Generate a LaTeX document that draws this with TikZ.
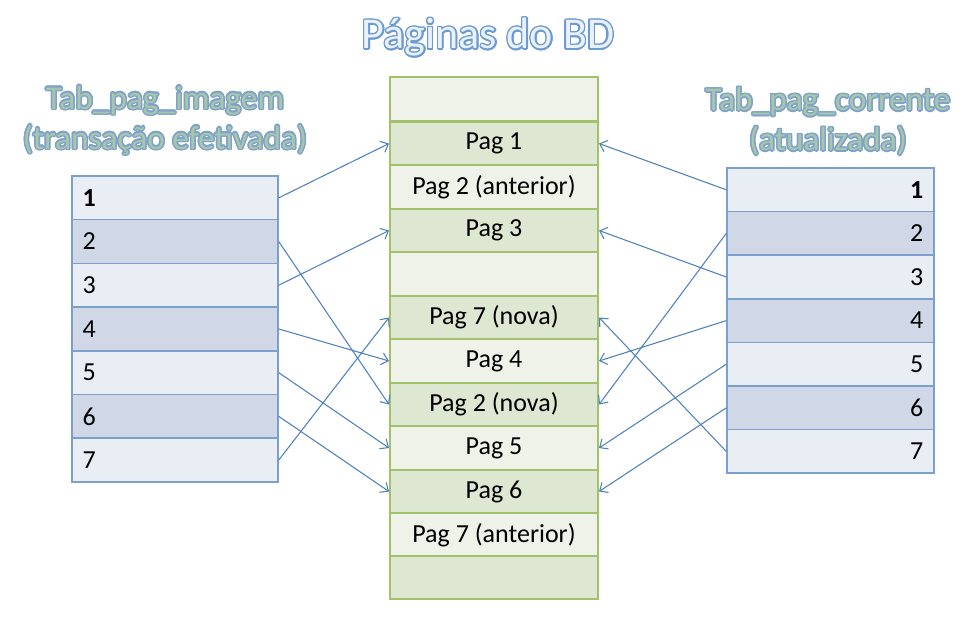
\documentclass[tikz,border=0pt]{standalone}
\usepackage{fontspec}
\setmainfont{Carlito}
\usepackage[copies]{contour}
\usetikzlibrary{arrows.meta}

\definecolor{bdlight}{HTML}{EFF2E9}
\definecolor{bddark}{HTML}{DEE7D1}
\definecolor{bdborder}{HTML}{A3C16B}
\definecolor{tablight}{HTML}{E9EDF4}
\definecolor{tabdark}{HTML}{D0D8E8}
\definecolor{tabborder}{HTML}{7BA0CD}
\definecolor{seta}{HTML}{4F81BD}
\definecolor{titfill}{HTML}{EAF1FA}
\definecolor{titline}{HTML}{6C9BD2}
\definecolor{subfill}{HTML}{A9C6A9}
\definecolor{subline}{HTML}{7DA3CC}

\begin{document}
\begin{tikzpicture}[x=0.75pt,y=-0.75pt]

                \tikzset{bdrow/.style = {shape=rectangle,draw=bdborder,line width=1.5pt,minimum width=156pt,minimum height=32.6pt,font=\fontsize{19.5}{22}\selectfont}}
                \tikzset{imgrow/.style = {shape=rectangle,draw=tabborder,line width=1.1pt,text width=138.5pt,inner xsep=8pt,align=left,minimum height=32.8pt,font=\fontsize{19.5}{22}\selectfont}}
                \tikzset{currow/.style = {shape=rectangle,draw=tabborder,line width=1.1pt,text width=139.25pt,inner xsep=8pt,align=right,minimum height=32.7pt,font=\fontsize{19.5}{22}\selectfont}}
                \tikzset{edge/.style = {draw=seta,line width=0.8pt,-{Straight Barb[length=5pt,width=9pt]}}}
                \contourlength{1.1pt}

                \useasboundingbox (0,0) rectangle (980,622);

                \node[font=\fontsize{33}{36}\selectfont,text=titfill] (titulo) at (488,38) {\contour{titline}{Páginas do BD}};
                \node[font=\fontsize{25}{30}\selectfont,text=subfill,align=center] (tabimg) at (165,121) {\contour{subline}{Tab\_pag\_imagem}\\\contour{subline}{(transação efetivada)}};
                \node[font=\fontsize{25}{30}\selectfont,text=subfill,align=center] (tabcur) at (828,122) {\contour{subline}{Tab\_pag\_corrente}\\\contour{subline}{(atualizada)}};

                \node[bdrow,fill=bdlight] (bd0) at (494,99) {};
                \node[bdrow,fill=bddark] (bd1) at (494,143.5) {Pag 1};
                \node[bdrow,fill=bdlight] (bd2) at (494,187) {Pag 2 (anterior)};
                \node[bdrow,fill=bddark] (bd3) at (494,230.5) {Pag 3};
                \node[bdrow,fill=bdlight] (bd4) at (494,274) {};
                \node[bdrow,fill=bddark] (bd5) at (494,317.5) {Pag 7 (nova)};
                \node[bdrow,fill=bdlight] (bd6) at (494,361) {Pag 4};
                \node[bdrow,fill=bddark] (bd7) at (494,404.5) {Pag 2 (nova)};
                \node[bdrow,fill=bdlight] (bd8) at (494,448) {Pag 5};
                \node[bdrow,fill=bddark] (bd9) at (494,491.5) {Pag 6};
                \node[bdrow,fill=bdlight] (bd10) at (494,535) {Pag 7 (anterior)};
                \node[bdrow,fill=bddark] (bd11) at (494,577.5) {};

                \node[imgrow,fill=tablight] (img1) at (175,197.85) {\textbf{1}};
                \node[imgrow,fill=tabdark] (img2) at (175,241.55) {2};
                \node[imgrow,fill=tablight] (img3) at (175,285.25) {3};
                \node[imgrow,fill=tabdark] (img4) at (175,328.95) {4};
                \node[imgrow,fill=tablight] (img5) at (175,372.65) {5};
                \node[imgrow,fill=tabdark] (img6) at (175,416.35) {6};
                \node[imgrow,fill=tablight] (img7) at (175,460.05) {7};

                \node[currow,fill=tablight] (cur1) at (830.5,189.8) {\textbf{1}};
                \node[currow,fill=tabdark] (cur2) at (830.5,233.4) {2};
                \node[currow,fill=tablight] (cur3) at (830.5,277) {3};
                \node[currow,fill=tabdark] (cur4) at (830.5,320.6) {4};
                \node[currow,fill=tablight] (cur5) at (830.5,364.2) {5};
                \node[currow,fill=tabdark] (cur6) at (830.5,407.8) {6};
                \node[currow,fill=tablight] (cur7) at (830.5,451.4) {7};

                \draw[edge] (img1.east) to (bd1.west);
                \draw[edge] (img2.east) to (bd7.west);
                \draw[edge] (img3.east) to (bd3.west);
                \draw[edge] (img4.east) to (bd6.west);
                \draw[edge] (img5.east) to (bd8.west);
                \draw[edge] (img6.east) to (bd9.west);
                \draw[edge] (img7.east) to (bd5.west);

                \draw[edge] (cur1.west) to (bd1.east);
                \draw[edge] (cur2.west) to (bd7.east);
                \draw[edge] (cur3.west) to (bd3.east);
                \draw[edge] (cur4.west) to (bd6.east);
                \draw[edge] (cur5.west) to (bd8.east);
                \draw[edge] (cur6.west) to (bd9.east);
                \draw[edge] (cur7.west) to (bd5.east);

            \end{tikzpicture}
\end{document}
